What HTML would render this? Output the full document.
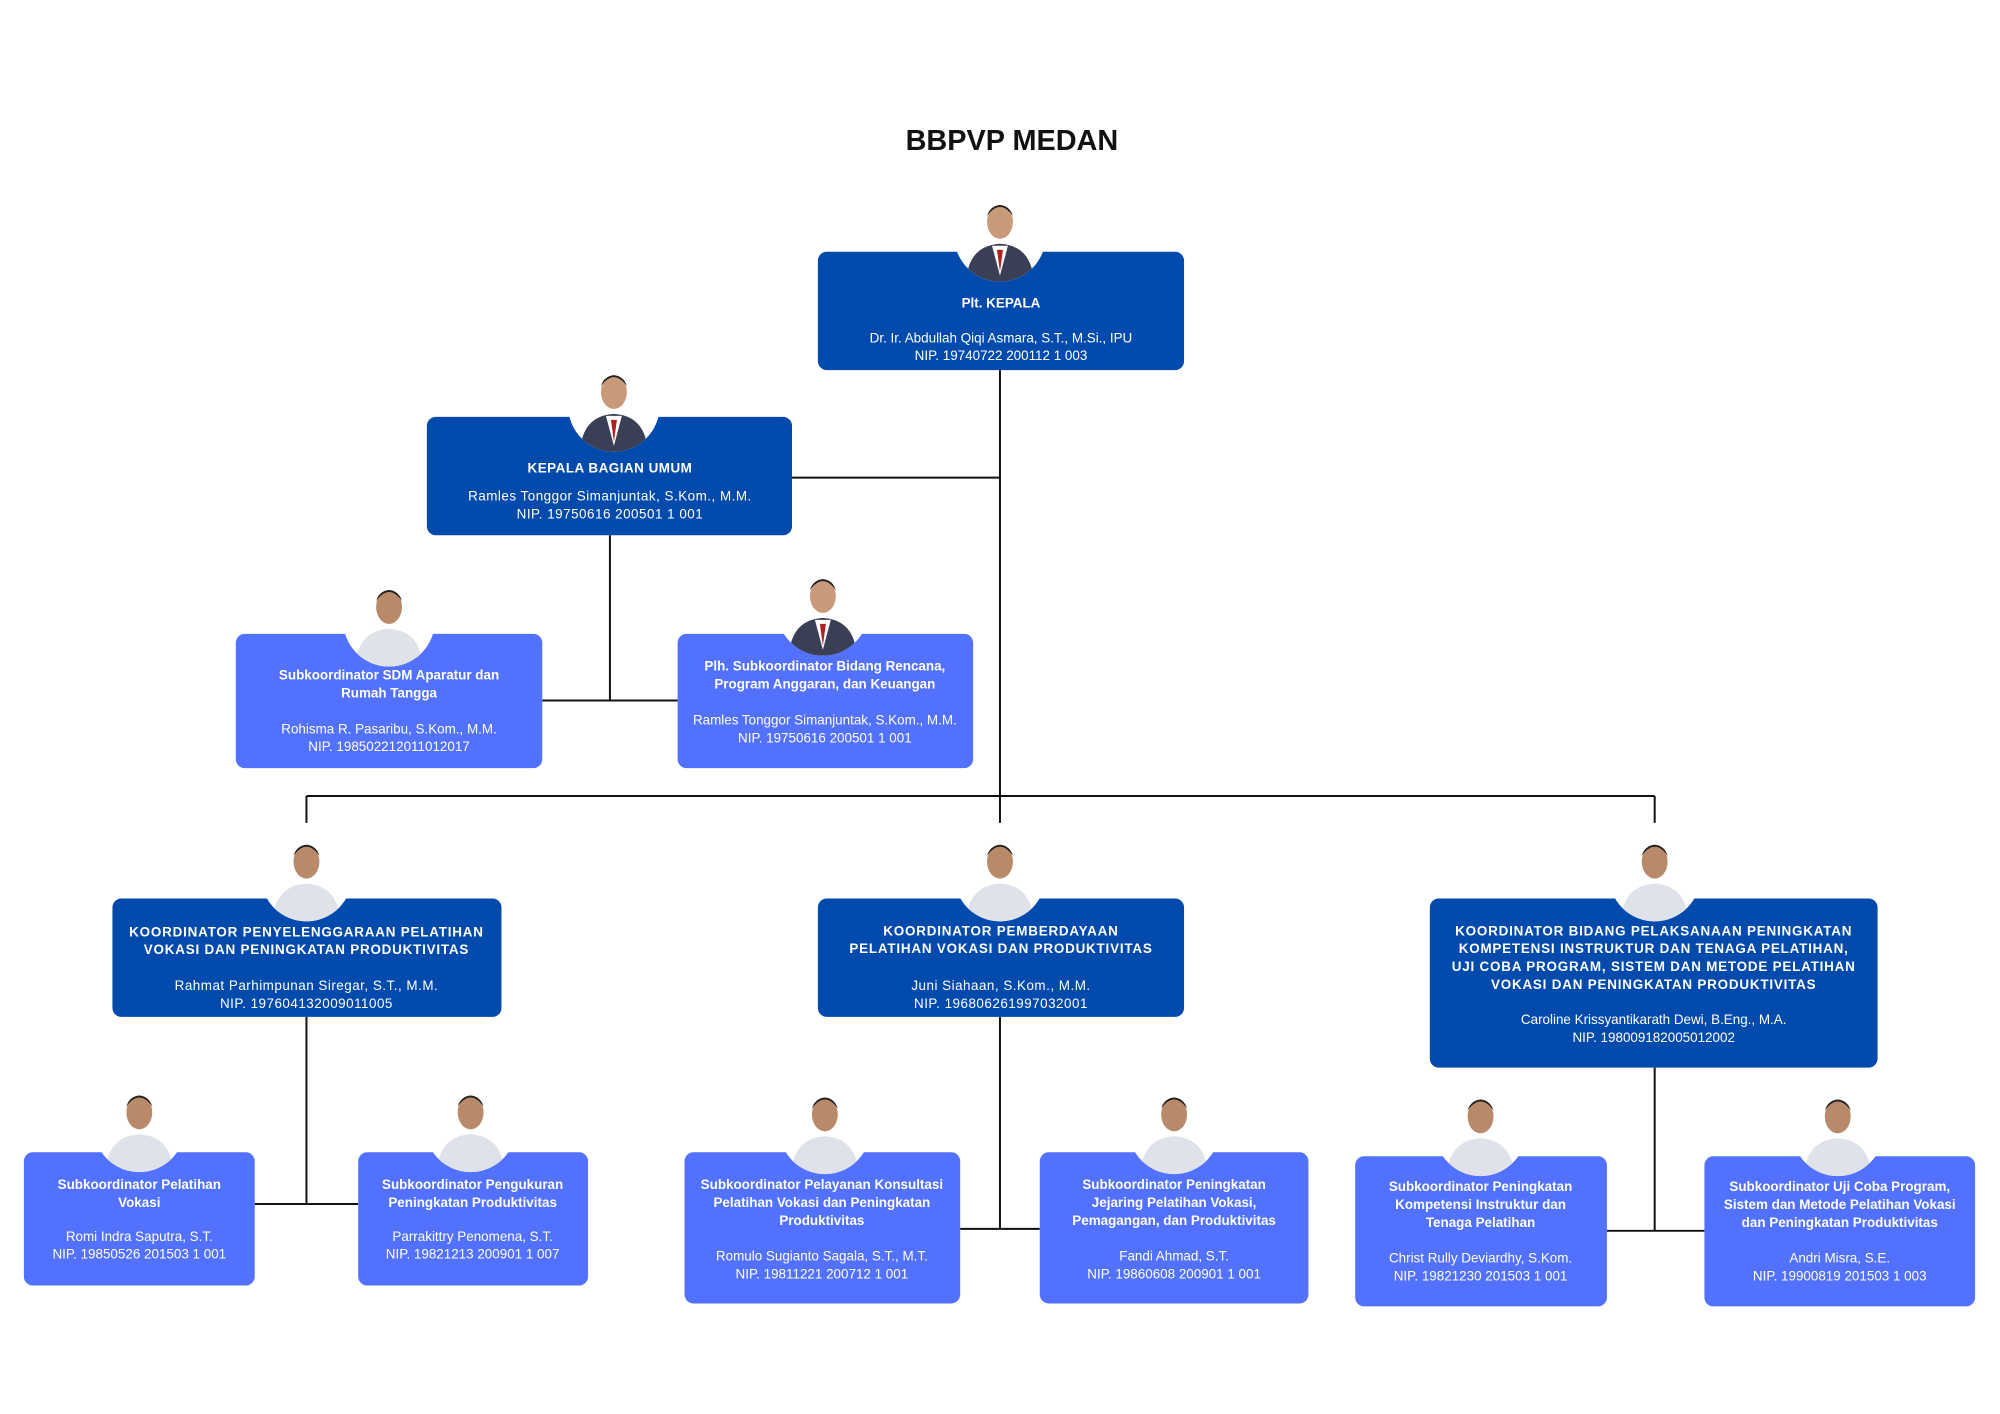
<!DOCTYPE html>
<html><head><meta charset="utf-8"><style>
html,body{margin:0;padding:0;background:#fff}
svg{display:block}
text{font-family:"Liberation Sans",sans-serif;fill:#fff;text-anchor:middle}
.b{font-weight:bold}
</style></head><body>
<svg width="2000" height="1414" viewBox="0 0 2000 1414" xmlns="http://www.w3.org/2000/svg">
<defs>
<g id="p">
<circle r="46" fill="#fff"/>
<clipPath id="cc"><circle r="46"/></clipPath>
<g clip-path="url(#cc)">
<path d="M-34 46 Q-32 10 0 8 Q32 10 34 46 Z" fill="#3a3f55"/>
<path d="M-8 10 L0 40 L8 10 Z" fill="#fff"/>
<path d="M-3 14 L0 36 L3 14 Z" fill="#b02020"/>
<ellipse cx="0" cy="-14" rx="13" ry="17" fill="#c99a7a"/>
<path d="M-13 -20 Q0 -38 13 -20 Q10 -30 0 -31 Q-10 -30 -13 -20Z" fill="#222"/>
</g>
</g>
<g id="pw">
<circle r="46" fill="#fff"/>
<clipPath id="cw"><circle r="46"/></clipPath>
<g clip-path="url(#cw)">
<path d="M-34 46 Q-32 10 0 8 Q32 10 34 46 Z" fill="#dfe2e8"/>
<ellipse cx="0" cy="-14" rx="13" ry="17" fill="#b88a6a"/>
<path d="M-13 -20 Q0 -38 13 -20 Q10 -30 0 -31 Q-10 -30 -13 -20Z" fill="#222"/>
</g>
</g>
</defs>
<g transform="scale(0.995)">
<g stroke="#111" stroke-width="2" fill="none">
<path d="M1005 372 V827"/>
<path d="M796 480 H1005"/>
<path d="M613 538 V704 M545 704 H681"/>
<path d="M308 800 H1663 M308 800 V827 M1663 800 V827"/>
<path d="M308 1022 V1210 M256 1210 H360"/>
<path d="M1005 1022 V1235 M965 1235 H1045"/>
<path d="M1663 1073 V1237 M1615 1237 H1713"/>
</g>
<text x="1017" y="151" class="b" style="fill:#111;font-size:29px">BBPVP MEDAN</text>
<g fill="#034aad">
<rect x="822" y="253" width="368" height="119" rx="9"/>
<rect x="429" y="419" width="367" height="119" rx="9"/>
<rect x="113" y="903" width="391" height="119" rx="9"/>
<rect x="822" y="903" width="368" height="119" rx="9"/>
<rect x="1437" y="903" width="450" height="170" rx="9"/>
</g>
<g fill="#5271ff">
<rect x="237" y="637" width="308" height="135" rx="9"/>
<rect x="681" y="637" width="297" height="135" rx="9"/>
<rect x="24" y="1158" width="232" height="134" rx="9"/>
<rect x="360" y="1158" width="231" height="134" rx="9"/>
<rect x="688" y="1158" width="277" height="152" rx="9"/>
<rect x="1045" y="1158" width="270" height="152" rx="9"/>
<rect x="1362" y="1162" width="253" height="151" rx="9"/>
<rect x="1713" y="1162" width="272" height="151" rx="9"/>
</g>
<use href="#p" x="1005" y="237"/>
<use href="#p" x="617" y="408"/>
<use href="#pw" x="391" y="624"/>
<use href="#p" x="827" y="613"/>
<use href="#pw" x="308" y="880"/>
<use href="#pw" x="1005" y="880"/>
<use href="#pw" x="1663" y="880"/>
<use href="#pw" x="140" y="1132"/>
<use href="#pw" x="473" y="1132"/>
<use href="#pw" x="829" y="1134"/>
<use href="#pw" x="1180" y="1134"/>
<use href="#pw" x="1488" y="1136"/>
<use href="#pw" x="1847" y="1136"/>
<g style="font-size:13.5px">
<text x="1006" y="309" class="b">Plt. KEPALA</text>
<text x="1006" y="344">Dr. Ir. Abdullah Qiqi Asmara, S.T., M.Si., IPU</text>
<text x="1006" y="362">NIP. 19740722 200112 1 003</text>

<text x="613" y="475" class="b" style="letter-spacing:.5px">KEPALA BAGIAN UMUM</text>
<text x="613" y="503" style="letter-spacing:.5px">Ramles Tonggor Simanjuntak, S.Kom., M.M.</text>
<text x="613" y="521" style="letter-spacing:.5px">NIP. 19750616 200501 1 001</text>

<text x="391" y="683" class="b">Subkoordinator SDM Aparatur dan</text>
<text x="391" y="701" class="b">Rumah Tangga</text>
<text x="391" y="737">Rohisma R. Pasaribu, S.Kom., M.M.</text>
<text x="391" y="755">NIP. 198502212011012017</text>

<text x="829" y="674" class="b">Plh. Subkoordinator Bidang Rencana,</text>
<text x="829" y="692" class="b">Program Anggaran, dan Keuangan</text>
<text x="829" y="728">Ramles Tonggor Simanjuntak, S.Kom., M.M.</text>
<text x="829" y="746">NIP. 19750616 200501 1 001</text>

<text x="308" y="941" class="b" style="letter-spacing:.8px">KOORDINATOR PENYELENGGARAAN PELATIHAN</text>
<text x="308" y="959" class="b" style="letter-spacing:.8px">VOKASI DAN PENINGKATAN PRODUKTIVITAS</text>
<text x="308" y="995" style="letter-spacing:.5px">Rahmat Parhimpunan Siregar, S.T., M.M.</text>
<text x="308" y="1013" style="letter-spacing:.5px">NIP. 197604132009011005</text>

<text x="1006" y="940" class="b" style="letter-spacing:.8px">KOORDINATOR PEMBERDAYAAN</text>
<text x="1006" y="958" class="b" style="letter-spacing:.8px">PELATIHAN VOKASI DAN PRODUKTIVITAS</text>
<text x="1006" y="995" style="letter-spacing:.5px">Juni Siahaan, S.Kom., M.M.</text>
<text x="1006" y="1013" style="letter-spacing:.5px">NIP. 196806261997032001</text>

<text x="1662" y="940" class="b" style="letter-spacing:.8px">KOORDINATOR BIDANG PELAKSANAAN PENINGKATAN</text>
<text x="1662" y="958" class="b" style="letter-spacing:.8px">KOMPETENSI INSTRUKTUR DAN TENAGA PELATIHAN,</text>
<text x="1662" y="976" class="b" style="letter-spacing:.8px">UJI COBA PROGRAM, SISTEM DAN METODE PELATIHAN</text>
<text x="1662" y="994" class="b" style="letter-spacing:.8px">VOKASI DAN PENINGKATAN PRODUKTIVITAS</text>
<text x="1662" y="1029">Caroline Krissyantikarath Dewi, B.Eng., M.A.</text>
<text x="1662" y="1047">NIP. 198009182005012002</text>

<text x="140" y="1195" class="b">Subkoordinator Pelatihan</text>
<text x="140" y="1213" class="b">Vokasi</text>
<text x="140" y="1247">Romi Indra Saputra, S.T.</text>
<text x="140" y="1265">NIP. 19850526 201503 1 001</text>

<text x="475" y="1195" class="b">Subkoordinator Pengukuran</text>
<text x="475" y="1213" class="b">Peningkatan Produktivitas</text>
<text x="475" y="1247">Parrakittry Penomena, S.T.</text>
<text x="475" y="1265">NIP. 19821213 200901 1 007</text>

<text x="826" y="1195" class="b">Subkoordinator Pelayanan Konsultasi</text>
<text x="826" y="1213" class="b">Pelatihan Vokasi dan Peningkatan</text>
<text x="826" y="1231" class="b">Produktivitas</text>
<text x="826" y="1267">Romulo Sugianto Sagala, S.T., M.T.</text>
<text x="826" y="1285">NIP. 19811221 200712 1 001</text>

<text x="1180" y="1195" class="b">Subkoordinator Peningkatan</text>
<text x="1180" y="1213" class="b">Jejaring Pelatihan Vokasi,</text>
<text x="1180" y="1231" class="b">Pemagangan, dan Produktivitas</text>
<text x="1180" y="1267">Fandi Ahmad, S.T.</text>
<text x="1180" y="1285">NIP. 19860608 200901 1 001</text>

<text x="1488" y="1197" class="b">Subkoordinator Peningkatan</text>
<text x="1488" y="1215" class="b">Kompetensi Instruktur dan</text>
<text x="1488" y="1233" class="b">Tenaga Pelatihan</text>
<text x="1488" y="1269">Christ Rully Deviardhy, S.Kom.</text>
<text x="1488" y="1287">NIP. 19821230 201503 1 001</text>

<text x="1849" y="1197" class="b">Subkoordinator Uji Coba Program,</text>
<text x="1849" y="1215" class="b">Sistem dan Metode Pelatihan Vokasi</text>
<text x="1849" y="1233" class="b">dan Peningkatan Produktivitas</text>
<text x="1849" y="1269">Andri Misra, S.E.</text>
<text x="1849" y="1287">NIP. 19900819 201503 1 003</text>
</g>
</g>
</svg>
</body></html>
